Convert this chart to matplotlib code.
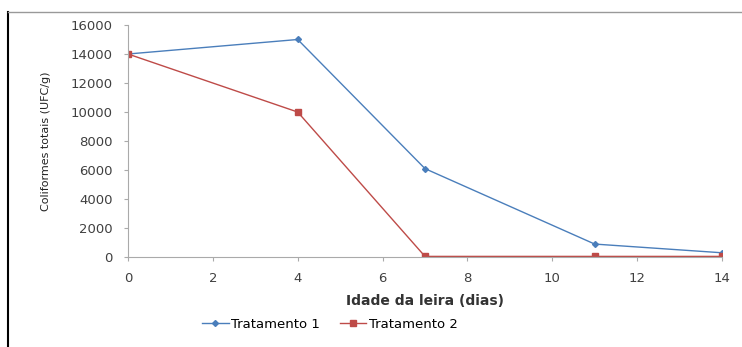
import matplotlib.pyplot as plt
from matplotlib.lines import Line2D

# dados
dias = [0, 4, 7, 11, 14]
tratamento1 = [14000, 15000, 6100, 900, 300]
tratamento2 = [14000, 10000, 50, 50, 50]
y_ticks = [0, 2000, 4000, 6000, 8000, 10000, 12000, 14000, 16000]
x_ticks = [0, 2, 4, 6, 8, 10, 12, 14]

fig = plt.figure(figsize=(7.42, 3.47), dpi=100)
ax = fig.add_axes([0.1725, 0.259, 0.8005, 0.669])

ax.plot(dias, tratamento1, color="#4a7ebb", marker="D", markersize=3, linewidth=1, label="Tratamento 1")
ax.plot(dias, tratamento2, color="#be4b48", marker="s", markersize=5, linewidth=1, label="Tratamento 2")

ax.set_xlim(0, 14)
ax.set_ylim(0, 16000)
ax.set_xticks(x_ticks)
ax.set_yticks(y_ticks)
ax.tick_params(colors="#404040", labelsize=9.5, length=3, color="#aaaaaa")
ax.tick_params(axis="x", pad=8)
ax.tick_params(axis="y", pad=8)
for s in ["top", "right"]:
    ax.spines[s].set_visible(False)
for s in ["left", "bottom"]:
    ax.spines[s].set_color("#aaaaaa")

ax.set_xlabel("Idade da leira (dias)", fontweight="bold", fontsize=10, color="#333333", labelpad=6)
ax.set_ylabel("Coliformes totais (UFC/g)", fontsize=8, color="#222222", labelpad=14)

ax.legend(loc="center", bbox_to_anchor=(0.34, -0.29), ncol=2, frameon=False,
          fontsize=9.5, handlelength=2, columnspacing=1.5, handletextpad=0.2)

# moldura da imagem
fig.add_artist(Line2D([0.011, 0.011], [0.0, 0.965], color="black", linewidth=1.5))
fig.add_artist(Line2D([0.011, 1.0], [0.965, 0.965], color="#999999", linewidth=1))

fig.savefig("out.png", dpi=100)
